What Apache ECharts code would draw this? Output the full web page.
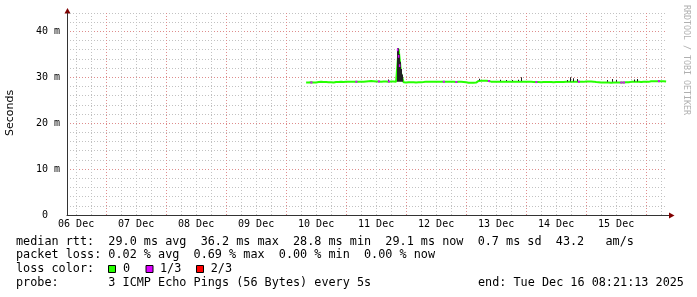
<!DOCTYPE html>
<html><head><meta charset="utf-8">
<script src="https://cdn.jsdelivr.net/npm/echarts@6/dist/echarts.min.js"></script>
<style>html,body{margin:0;padding:0;background:#fff}#c{width:697px;height:297px}</style>
</head><body><div id="c"></div>
<script>
// ---------------- data ----------------
const HOUR = 3600000, DAY = 86400000;
const startTime = Date.UTC(2025, 11, 6, 8, 21, 13);
const endTime = Date.UTC(2025, 11, 16, 8, 21, 13);
const dayLabels = ['06 Dec','07 Dec','08 Dec','09 Dec','10 Dec','11 Dec','12 Dec','13 Dec','14 Dec','15 Dec'];
const yTickValues = [0, 10, 20, 30, 40];
const yTickLabels = ['0  ', '10 m', '20 m', '30 m', '40 m'];
const yMax = 44;

// hourly median RTT (ms) from Dec 10 08:00
const medianStart = Date.UTC(2025, 11, 10, 8, 0, 0);
const medianRtt = [
  28.85, 28.85, 28.9, 28.85, 28.85,
  28.95, 29.0, 28.95, 28.95,
  28.9, 28.9, 28.85,
  28.95, 28.95, 29.0, 28.95,
  29.0, 29.05, 29.0, 29.0, 29.05, 29.0, 29.05, 29.05, 29.1,
  29.15, 29.2, 29.15,
  29.1, 29.1, 29.05, 29.1, 29.1, 29.05, 29.1, 29.1, 29.05,
  36.2, 30.8,
  28.9, 28.85, 28.9, 28.9, 28.9, 28.85, 28.9, 28.9, 28.95,
  29.05, 29.05, 29.0, 29.05, 29.05, 29.05, 29.0, 29.05, 29.05, 29.0,
  29.0, 29.0, 28.95, 29.0, 29.0, 28.95, 28.9,
  28.8, 28.8, 28.8, 28.85,
  29.2, 29.25, 29.25, 29.25, 29.2,
  29.05, 29.05, 29.0, 29.05, 29.05, 29.05, 29.05, 29.0, 29.05, 29.05, 29.05, 29.05, 29.0, 29.05,
  29.0, 29.0, 29.0, 28.95,
  28.95, 28.95, 28.9, 28.95, 28.95, 28.95, 28.95, 28.9, 28.95, 28.95, 28.95, 28.95, 29.0,
  29.0, 29.0, 29.0, 29.05, 29.0, 29.0, 29.0,
  29.1, 29.1, 29.1, 29.05,
  28.95, 28.9,
  28.85, 28.85, 28.85, 28.85, 28.8, 28.85, 28.85, 28.85, 28.85, 28.85, 28.9, 28.9,
  29.0, 29.0, 29.0, 29.0, 28.95, 29.0, 29.0, 29.0,
  29.15, 29.15, 29.15, 29.15, 29.15, 29.15, 29.1
];
// hour offsets (from medianStart) where 1/3 of pings were lost
const lossOneThirdHours = [2, 20, 29, 33, 55, 60, 73, 92, 109, 126, 127, 141];
// spike loss marks: [hour offset, ms]
const spikeLoss = [[36.6, 36.0], [37.0, 34.6], [37.4, 32.6]];
// smoke: [hour offset, low ms, high ms]
const smoke = [
  [32.8, 29.2, 29.5], [36.4, 29.0, 36.3], [36.8, 29.0, 36.3], [37.2, 29.0, 35.0],
  [37.6, 29.0, 33.4], [38.0, 29.0, 31.8], [38.4, 29.0, 30.6],
  [69.2, 29.35, 29.7], [77.6, 29.2, 29.45], [80.0, 29.2, 29.4], [82.4, 29.2, 29.4],
  [84.8, 29.2, 29.45], [86.0, 29.2, 30.0], [104.4, 29.1, 29.4], [105.6, 29.1, 30.0],
  [106.8, 29.1, 29.8], [108.4, 29.1, 29.6], [120.4, 29.0, 29.4], [122.4, 29.0, 29.6],
  [124.0, 29.0, 29.4], [131.2, 29.1, 29.5], [132.4, 29.1, 29.6]
];
const legendLines = [
  'median rtt:  29.0 ms avg  36.2 ms max  28.8 ms min  29.1 ms now  0.7 ms sd  43.2   am/s',
  'packet loss: 0.02 % avg  0.69 % max  0.00 % min  0.00 % now',
  'loss color:',
  'probe:       3 ICMP Echo Pings (56 Bytes) every 5s'
];
const lossColorLabels = ['0', '1/3', '2/3'];
const lossColors = ['#26ff00', '#dd00ff', '#ff0000'];
const endLabel = 'end: Tue Dec 16 08:21:13 2025';

// ---------------- build ----------------
const medianData = medianRtt.map((v, i) => [medianStart + i * HOUR, v]);
function interp(h) {
  const i = Math.floor(h), f = h - i;
  const a = medianRtt[Math.max(0, Math.min(medianRtt.length - 1, i))];
  const b = medianRtt[Math.max(0, Math.min(medianRtt.length - 1, i + 1))];
  return a + (b - a) * f;
}
const lossSeries = lossOneThirdHours.map(h => ({
  type: 'line', xAxisIndex: 0, yAxisIndex: 0, showSymbol: false, silent: true, z: 6,
  lineStyle: { width: 2, color: lossColors[1] },
  data: [[medianStart + (h - 0.3) * HOUR, interp(h - 0.3)], [medianStart + (h + 0.5) * HOUR, interp(h + 0.5)]]
}));
const spikeLossSeries = spikeLoss.map(p => ({
  type: 'line', xAxisIndex: 0, yAxisIndex: 0, showSymbol: false, silent: true, z: 6,
  lineStyle: { width: 1.5, color: lossColors[1] },
  data: [[medianStart + p[0] * HOUR, p[1] + 0.25], [medianStart + p[0] * HOUR, p[1] - 0.35]]
}));
const firstNoon = Date.UTC(2025, 11, 6, 12);
const noonTicks = dayLabels.map((_, k) => firstNoon + k * DAY);
const midnightTicks = [], sixHourTicks = [];
for (let t = Date.UTC(2025, 11, 6, 12); t <= endTime; t += 6 * HOUR) {
  if (t < startTime) continue;
  if (new Date(t).getUTCHours() === 0) midnightTicks.push(t); else sixHourTicks.push(t);
}
const mono = '"DejaVu Sans Mono", monospace';
const axisFont = { fontFamily: mono, fontSize: 10, color: '#000' };

const gx = 67, gy0 = 215, gTop = 13, gRight = 667;
const graphics = [];
legendLines.forEach((s, k) => {
  graphics.push({ type: 'text', style: { text: s, x: 16, y: [241.7, 255.2, 268.9, 282.6][k], font: '11.8px ' + mono, fill: '#000', verticalAlign: 'middle' } });
});
[108, 145.5, 196].forEach((bx, k) => {
  graphics.push({ type: 'rect', shape: { x: bx + 0.5, y: 265.5, width: 7, height: 7 }, style: { fill: lossColors[k], stroke: '#000', lineWidth: 1 } });
  graphics.push({ type: 'text', style: { text: lossColorLabels[k], x: [123, 160, 210.7][k], y: 268.9, font: '11.8px ' + mono, fill: '#000', verticalAlign: 'middle' } });
});
graphics.push({ type: 'text', style: { text: endLabel, x: 478, y: 282.6, font: '11.8px ' + mono, fill: '#000', verticalAlign: 'middle' } });
graphics.push({ type: 'text', rotation: Math.PI / 2, x: 10, y: 113, style: { text: 'Seconds', font: '11px "DejaVu Sans", sans-serif', fill: '#000', align: 'center', verticalAlign: 'middle' } });
graphics.push({ type: 'text', rotation: -Math.PI / 2, x: 686, y: 60, style: { text: 'RRDTOOL / TOBI OETIKER', font: '8.3px ' + mono, fill: '#b0b0b0', align: 'center', verticalAlign: 'middle' } });
// axis line extensions and arrows
graphics.push({ type: 'line', shape: { x1: gx + 0.5, y1: gTop, x2: gx + 0.5, y2: 11 }, style: { stroke: '#333', lineWidth: 1 } });
graphics.push({ type: 'line', shape: { x1: gRight, y1: gy0 + 0.5, x2: 670, y2: gy0 + 0.5 }, style: { stroke: '#333', lineWidth: 1 } });
graphics.push({ type: 'polygon', shape: { points: [[gx + 0.5, 8], [gx - 2.5, 13.5], [gx + 3.5, 13.5]] }, style: { fill: '#800000' } });
graphics.push({ type: 'polygon', shape: { points: [[674.5, gy0 + 0.5], [669, gy0 - 2.5], [669, gy0 + 3.5]] }, style: { fill: '#800000' } });

const minorColor = '#c2c2c2', majorColor = '#de8c8c';
const option = {
  animation: false,
  backgroundColor: '#ffffff',
  grid: { left: gx, right: 697 - gRight, top: gTop, bottom: 297 - gy0, containLabel: false },
  xAxis: [
    {
      type: 'value', min: startTime, max: endTime, position: 'bottom',
      axisLine: { show: true, onZero: false, lineStyle: { color: '#333', width: 1 } },
      axisTick: { show: false, customValues: sixHourTicks },
      axisLabel: { customValues: noonTicks, margin: 4, ...axisFont,
        formatter: v => dayLabels[Math.round((v - firstNoon) / DAY)] || '' },
      splitLine: { show: true, lineStyle: { color: minorColor, type: [1, 2], width: 1 } }
    },
    {
      type: 'value', min: startTime, max: endTime, position: 'bottom',
      axisLine: { show: false }, axisLabel: { show: false },
      axisTick: { show: false, customValues: midnightTicks },
      splitLine: { show: true, lineStyle: { color: majorColor, type: [1, 2], width: 1 } }
    }
  ],
  yAxis: [
    {
      type: 'value', min: 0, max: yMax, interval: 2,
      axisLine: { show: true, onZero: false, lineStyle: { color: '#333', width: 1 } },
      axisTick: { show: false },
      axisLabel: { margin: 7, ...axisFont,
        formatter: v => { const k = yTickValues.indexOf(v); return k >= 0 ? yTickLabels[k] : ''; } },
      splitLine: { show: true, lineStyle: { color: minorColor, type: [1, 2], width: 1 } }
    },
    {
      type: 'value', min: 0, max: yMax, position: 'left',
      axisLine: { show: false }, axisLabel: { show: false },
      axisTick: { show: false, customValues: yTickValues },
      splitLine: { show: true, lineStyle: { color: majorColor, type: [1, 2], width: 1 } }
    }
  ],
  series: [
    {
      type: 'line', xAxisIndex: 0, yAxisIndex: 0, showSymbol: false, silent: true, z: 3,
      lineStyle: { width: 2, color: lossColors[0] },
      data: medianData
    },
    {
      type: 'custom', xAxisIndex: 0, yAxisIndex: 0, z: 5, silent: true,
      data: smoke.map(s => [medianStart + s[0] * HOUR, s[1], s[2]]),
      encode: { x: 0, y: [1, 2] },
      renderItem: (params, api) => {
        const top = api.coord([api.value(0), api.value(2)]);
        const bot = api.coord([api.value(0), api.value(1)]);
        return { type: 'rect', shape: { x: Math.round(top[0]), y: top[1], width: 1, height: bot[1] - top[1] }, style: { fill: '#222' } };
      }
    },
    ...lossSeries,
    ...spikeLossSeries
  ],
  graphic: graphics
};
const chart = echarts.init(document.getElementById('c'), null, { renderer: 'canvas' });
chart.setOption(option);
</script>
</body></html>
